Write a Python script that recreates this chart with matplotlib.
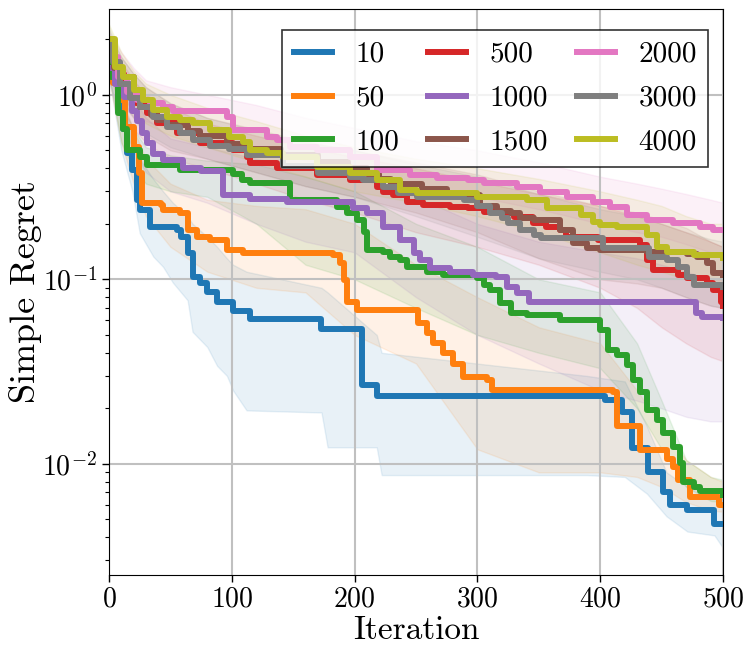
import numpy as np
import matplotlib
matplotlib.use("Agg")
import matplotlib.pyplot as plt

plt.rcParams['font.family'] = 'serif'
plt.rcParams['font.serif'] = ['cmr10']
plt.rcParams['mathtext.fontset'] = 'cm'
plt.rcParams['axes.formatter.use_mathtext'] = True

# median simple regret (step curves), one per population size
labels = ['10', '50', '100', '500', '1000', '1500', '2000', '3000', '4000']
colors = ['tab:blue', 'tab:orange', 'tab:green', 'tab:red', 'tab:purple',
          'tab:brown', 'tab:pink', 'tab:gray', 'tab:olive']

x_10 = [0, 2, 7, 11, 15, 19, 23, 25, 33, 55, 59, 64, 68, 74, 80, 88, 101, 115, 173, 206,
        218, 404, 418, 426, 439, 451, 457, 471, 493, 500]
y_10 = [1.42, 1.28, 0.94, 0.65, 0.485, 0.39, 0.27, 0.238, 0.193, 0.186, 0.170, 0.139, 0.103,
        0.096, 0.085, 0.075, 0.067, 0.0613, 0.054, 0.0268, 0.0233, 0.0222, 0.0190, 0.0122,
        0.0090, 0.0070, 0.0060, 0.0056, 0.0047, 0.0047]

x_50 = [0, 3, 7, 13, 20, 24, 27, 42, 44, 58, 64, 72, 82, 96, 109, 182, 188, 191, 194, 202,
        252, 259, 264, 272, 280, 288, 308, 312, 410, 414, 432, 454, 459, 463, 473, 497, 500]
y_50 = [1.37, 1.16, 0.94, 0.67, 0.52, 0.378, 0.26, 0.253, 0.238, 0.229, 0.186, 0.170, 0.164,
        0.144, 0.139, 0.136, 0.123, 0.099, 0.075, 0.068, 0.058, 0.051, 0.045, 0.040, 0.035,
        0.0296, 0.0285, 0.0252, 0.0245, 0.0160, 0.0119, 0.0106, 0.0096, 0.0082, 0.0066,
        0.0060, 0.0060]

x_100 = [0, 2, 7, 11, 15, 25, 31, 58, 101, 108, 115, 147, 186, 194, 202, 208, 210, 223, 229,
         237, 243, 259, 272, 300, 305, 310, 318, 327, 340, 367, 400, 406, 414, 422, 427, 432,
         438, 446, 451, 459, 465, 467, 476, 481, 500]
y_100 = [1.55, 1.25, 0.80, 0.65, 0.50, 0.46, 0.418, 0.39, 0.37, 0.345, 0.334, 0.27, 0.247,
         0.229, 0.21, 0.18, 0.144, 0.141, 0.133, 0.128, 0.117, 0.110, 0.106, 0.102, 0.093,
         0.088, 0.074, 0.066, 0.064, 0.060, 0.053, 0.0415, 0.039, 0.0344, 0.0286, 0.0244,
         0.0196, 0.0174, 0.0147, 0.0124, 0.0101, 0.0080, 0.0075, 0.0071, 0.0068]

x_500 = [0, 5, 12, 22, 31, 39, 55, 74, 101, 112, 115, 137, 169, 196, 218, 223, 231, 243, 256,
         278, 292, 305, 318, 330, 345, 356, 367, 372, 398, 432, 438, 443, 463, 471, 487, 492,
         498, 500]
y_500 = [1.6, 1.3, 1.05, 0.9, 0.8, 0.705, 0.622, 0.55, 0.503, 0.461, 0.428, 0.402, 0.368,
         0.346, 0.317, 0.298, 0.287, 0.263, 0.253, 0.247, 0.244, 0.232, 0.229, 0.218, 0.202,
         0.193, 0.185, 0.170, 0.164, 0.154, 0.128, 0.113, 0.106, 0.102, 0.096, 0.088, 0.075,
         0.072]

x_1000 = [0, 5, 12, 19, 23, 27, 31, 36, 44, 60, 75, 93, 115, 145, 199, 210, 223, 237, 248,
          253, 261, 278, 296, 315, 324, 332, 342, 478, 483, 500]
y_1000 = [1.40, 1.15, 0.97, 0.82, 0.72, 0.62, 0.55, 0.48, 0.445, 0.40, 0.385, 0.287, 0.272,
          0.262, 0.245, 0.229, 0.193, 0.164, 0.139, 0.128, 0.115, 0.110, 0.106, 0.103, 0.091,
          0.084, 0.0754, 0.066, 0.0627, 0.062]

x_1500 = [0, 4, 9, 20, 25, 34, 39, 47, 64, 74, 96, 112, 140, 170, 195, 210, 220, 230, 255,
          275, 286, 302, 316, 327, 335, 346, 367, 378, 389, 400, 438, 471, 479, 487, 492, 500]
y_1500 = [1.75, 1.4, 1.25, 0.98, 0.86, 0.78, 0.73, 0.69, 0.64, 0.60, 0.54, 0.51, 0.47, 0.43,
          0.40, 0.37, 0.35, 0.33, 0.31, 0.29, 0.287, 0.25, 0.235, 0.228, 0.215, 0.21, 0.185,
          0.158, 0.148, 0.145, 0.141, 0.137, 0.133, 0.122, 0.108, 0.105]

x_2000 = [0, 1, 7, 15, 23, 33, 44, 52, 96, 101, 129, 137, 147, 169, 196, 218, 245, 267, 292,
          305, 332, 351, 373, 394, 408, 422, 438, 459, 481, 492, 500]
y_2000 = [1.75, 1.6, 1.25, 1.03, 0.94, 0.905, 0.86, 0.82, 0.76, 0.646, 0.592, 0.57, 0.52,
          0.503, 0.46, 0.392, 0.368, 0.355, 0.346, 0.333, 0.317, 0.298, 0.28, 0.263, 0.247,
          0.224, 0.21, 0.203, 0.193, 0.186, 0.186]

x_3000 = [0, 3, 9, 17, 25, 36, 47, 58, 68, 82, 98, 112, 142, 170, 196, 207, 223, 235, 251,
          289, 300, 310, 320, 325, 335, 346, 352, 402, 432, 440, 454, 463, 471, 476, 500]
y_3000 = [1.9, 1.5, 1.15, 0.96, 0.86, 0.76, 0.67, 0.62, 0.57, 0.53, 0.51, 0.47, 0.41, 0.378,
          0.36, 0.346, 0.317, 0.294, 0.28, 0.27, 0.25, 0.229, 0.215, 0.203, 0.185, 0.174,
          0.168, 0.148, 0.147, 0.132, 0.128, 0.117, 0.103, 0.093, 0.091]

x_4000 = [0, 5, 11, 20, 28, 36, 47, 58, 68, 82, 98, 109, 115, 129, 142, 169, 196, 218, 237,
          251, 300, 340, 357, 384, 394, 400, 414, 438, 446, 454, 476, 500]
y_4000 = [2.0, 1.42, 1.25, 1.06, 0.94, 0.83, 0.76, 0.73, 0.705, 0.646, 0.59, 0.556, 0.503,
          0.485, 0.461, 0.407, 0.378, 0.346, 0.306, 0.295, 0.28, 0.27, 0.244, 0.224, 0.205,
          0.197, 0.193, 0.174, 0.150, 0.141, 0.136, 0.131]

# spread bands (lower / upper)
band_x = [0, 10, 20, 30, 50, 80, 120, 160, 200, 250, 300, 350, 400, 430, 450, 470, 490, 500]

bx_10 = [0, 10, 19, 25, 36, 44, 52, 64, 68, 80, 88, 96, 101, 112, 173, 178, 218, 222, 389,
         420, 438, 454, 471, 493, 500]
lo_10 = [1.25, 0.5, 0.3, 0.178, 0.133, 0.117, 0.096, 0.077, 0.052, 0.043, 0.034, 0.030, 0.025,
         0.0195, 0.019, 0.0123, 0.0123, 0.0087, 0.0087, 0.0085, 0.0069, 0.0052, 0.0043,
         0.0041, 0.0035]
hi_10 = [1.6, 0.95, 0.6, 0.45, 0.35, 0.3, 0.26, 0.22, 0.2, 0.17, 0.15, 0.13, 0.12, 0.11, 0.09,
         0.085, 0.05, 0.04, 0.03, 0.028, 0.016, 0.009, 0.0075, 0.007, 0.0065]

lo_50 = [1.2, 0.55, 0.33, 0.22, 0.15, 0.11, 0.09, 0.085, 0.05, 0.035, 0.012, 0.009, 0.009,
         0.0085, 0.0075, 0.0062, 0.0056, 0.0055]
hi_50 = [1.6, 0.9, 0.65, 0.45, 0.33, 0.27, 0.25, 0.24, 0.2, 0.12, 0.08, 0.055, 0.045, 0.025,
         0.016, 0.0105, 0.0085, 0.008]
lo_100 = [1.3, 0.55, 0.4, 0.33, 0.3, 0.28, 0.2, 0.12, 0.1, 0.07, 0.05, 0.04, 0.033, 0.02,
          0.012, 0.0075, 0.0063, 0.0062]
hi_100 = [1.8, 0.95, 0.65, 0.52, 0.47, 0.44, 0.42, 0.36, 0.3, 0.2, 0.15, 0.1, 0.085, 0.045,
          0.022, 0.0105, 0.0085, 0.0082]
lo_500 = [1.3, 0.85, 0.65, 0.55, 0.45, 0.4, 0.33, 0.27, 0.23, 0.18, 0.15, 0.12, 0.09, 0.07,
          0.055, 0.045, 0.038, 0.036]
hi_500 = [2.0, 1.5, 1.2, 1.0, 0.85, 0.7, 0.6, 0.52, 0.46, 0.4, 0.34, 0.29, 0.25, 0.22, 0.2,
          0.18, 0.16, 0.15]
lo_1000 = [1.2, 0.7, 0.5, 0.38, 0.3, 0.26, 0.2, 0.16, 0.14, 0.08, 0.05, 0.035, 0.025, 0.022,
           0.02, 0.018, 0.017, 0.017]
hi_1000 = [1.8, 1.25, 0.95, 0.75, 0.58, 0.52, 0.45, 0.4, 0.36, 0.28, 0.2, 0.16, 0.14, 0.13,
           0.12, 0.11, 0.10, 0.10]
lo_1500 = [1.4, 0.95, 0.75, 0.6, 0.5, 0.45, 0.38, 0.32, 0.28, 0.23, 0.18, 0.13, 0.1, 0.095,
           0.09, 0.08, 0.072, 0.07]
hi_1500 = [2.1, 1.6, 1.3, 1.1, 0.9, 0.75, 0.65, 0.56, 0.5, 0.43, 0.37, 0.3, 0.25, 0.23, 0.21,
           0.19, 0.16, 0.15]
lo_2000 = [1.4, 1.0, 0.82, 0.72, 0.65, 0.6, 0.5, 0.44, 0.4, 0.32, 0.28, 0.24, 0.2, 0.18, 0.17,
           0.155, 0.14, 0.14]
hi_2000 = [2.2, 1.7, 1.4, 1.2, 1.1, 1.0, 0.88, 0.75, 0.66, 0.56, 0.5, 0.43, 0.36, 0.33, 0.31,
           0.29, 0.27, 0.26]
lo_3000 = [1.5, 0.9, 0.75, 0.62, 0.52, 0.45, 0.38, 0.32, 0.28, 0.22, 0.17, 0.13, 0.11, 0.1,
           0.09, 0.08, 0.072, 0.07]
hi_3000 = [2.3, 1.6, 1.3, 1.1, 0.9, 0.75, 0.64, 0.55, 0.5, 0.42, 0.36, 0.29, 0.24, 0.22, 0.2,
           0.18, 0.165, 0.16]
lo_4000 = [1.6, 1.0, 0.8, 0.7, 0.6, 0.52, 0.43, 0.36, 0.3, 0.26, 0.22, 0.18, 0.14, 0.12, 0.11,
           0.1, 0.092, 0.09]
hi_4000 = [2.4, 1.7, 1.35, 1.15, 1.0, 0.85, 0.72, 0.6, 0.52, 0.45, 0.4, 0.35, 0.3, 0.27, 0.25,
           0.22, 0.2, 0.2]

curves = [(x_10, y_10), (x_50, y_50), (x_100, y_100), (x_500, y_500), (x_1000, y_1000),
          (x_1500, y_1500), (x_2000, y_2000), (x_3000, y_3000), (x_4000, y_4000)]
bands = [(bx_10, lo_10, hi_10), (band_x, lo_50, hi_50), (band_x, lo_100, hi_100),
         (band_x, lo_500, hi_500), (band_x, lo_1000, hi_1000), (band_x, lo_1500, hi_1500),
         (band_x, lo_2000, hi_2000), (band_x, lo_3000, hi_3000), (band_x, lo_4000, hi_4000)]

fig = plt.figure(figsize=(7.53, 6.58), dpi=100)
ax = fig.add_axes([0.1448, 0.1266, 0.8154, 0.859])

for (bx, lo, hi), c in zip(bands, colors):
    ax.fill_between(bx, lo, hi, color=c, alpha=0.1, lw=1)

for (x, y), c, lab in zip(curves, colors, labels):
    ax.plot(x, y, drawstyle='steps-post', color=c, lw=4.3, label=lab)

ax.set_yscale('log')
ax.set_xlim(0, 500)
ax.set_ylim(0.00251, 2.9)
ax.set_xticks([0, 100, 200, 300, 400, 500])
ax.grid(True, which='major', color='#c0c0c0', lw=1.5)
ax.tick_params(axis='both', which='major', labelsize=20, length=5, width=1)
ax.tick_params(axis='y', which='minor', length=3, width=0.8)
ax.set_xlabel('Iteration', fontsize=24, labelpad=2)
ax.set_ylabel('Simple Regret', fontsize=26, labelpad=0)

leg = ax.legend(loc='upper right', ncol=3, fontsize=21, handlelength=1.3,
                handletextpad=0.8, columnspacing=1.0, labelspacing=0.6, fancybox=False,
                edgecolor='black', framealpha=0.8, bbox_to_anchor=(1.0, 0.99))
leg.get_frame().set_linewidth(1.2)

fig.savefig('out.png', dpi=100)
